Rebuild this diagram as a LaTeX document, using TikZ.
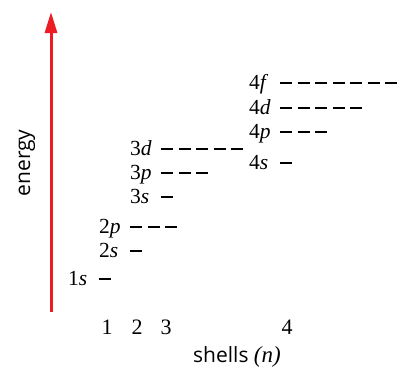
\documentclass[tikz,border=0pt]{standalone}
\usepackage{fontspec}
\setmainfont{Liberation Serif}
\newfontfamily\sansf{Open Sans}
\usetikzlibrary{arrows.meta}
\definecolor{arrred}{RGB}{237,28,36}
\newcommand{\orb}[5]{%
  \node[lbl] (#1) at (#2,#3+6.5) {#4};
  \draw[dashline] (#2+31,#3) -- ++(#5*17.5-5.5,0);
}
\begin{document}
\begin{tikzpicture}[x=1pt,y=-1pt,
  lbl/.style={anchor=base west,inner sep=0pt,font=\fontsize{21.5}{21.5}\selectfont},
  num/.style={anchor=base,inner sep=0pt,font=\fontsize{22}{22}\selectfont},
  dashline/.style={line width=1.1pt,dash pattern=on 12pt off 5.5pt},
  axislbl/.style={inner sep=0pt,font=\sansf\fontsize{21}{21}\selectfont}]
\useasboundingbox (0,0) rectangle (397,367);
\coordinate (abot) at (51,312);
\coordinate (atop) at (51,12);
\draw[arrred,line width=3pt,-{Triangle[length=21pt,width=12pt]}] (abot) -- (atop);
\node[axislbl,rotate=90] (energy) at (27,163) {energy};
\orb{o1s}{68}{279}{1\textit{s}}{1}
\orb{o2s}{99}{251}{2\textit{s}}{1}
\orb{o2p}{99}{227}{2\textit{p}}{3}
\orb{o3s}{130}{197}{3\textit{s}}{1}
\orb{o3p}{130}{173}{3\textit{p}}{3}
\orb{o3d}{130}{149}{3\textit{d}}{5}
\orb{o4s}{249}{163}{4\textit{s}}{1}
\orb{o4p}{249}{132}{4\textit{p}}{3}
\orb{o4d}{249}{108}{4\textit{d}}{5}
\orb{o4f}{249}{83}{4\textit{f}}{7}
\node[num] (n1) at (107,334) {1};
\node[num] (n2) at (137,334) {2};
\node[num] (n3) at (166,334) {3};
\node[num] (n4) at (287,334) {4};
\node[axislbl,anchor=base west] (shells) at (193,362) {shells {\rmfamily\itshape\fontsize{23}{23}\selectfont(n)}};
\end{tikzpicture}
\end{document}
